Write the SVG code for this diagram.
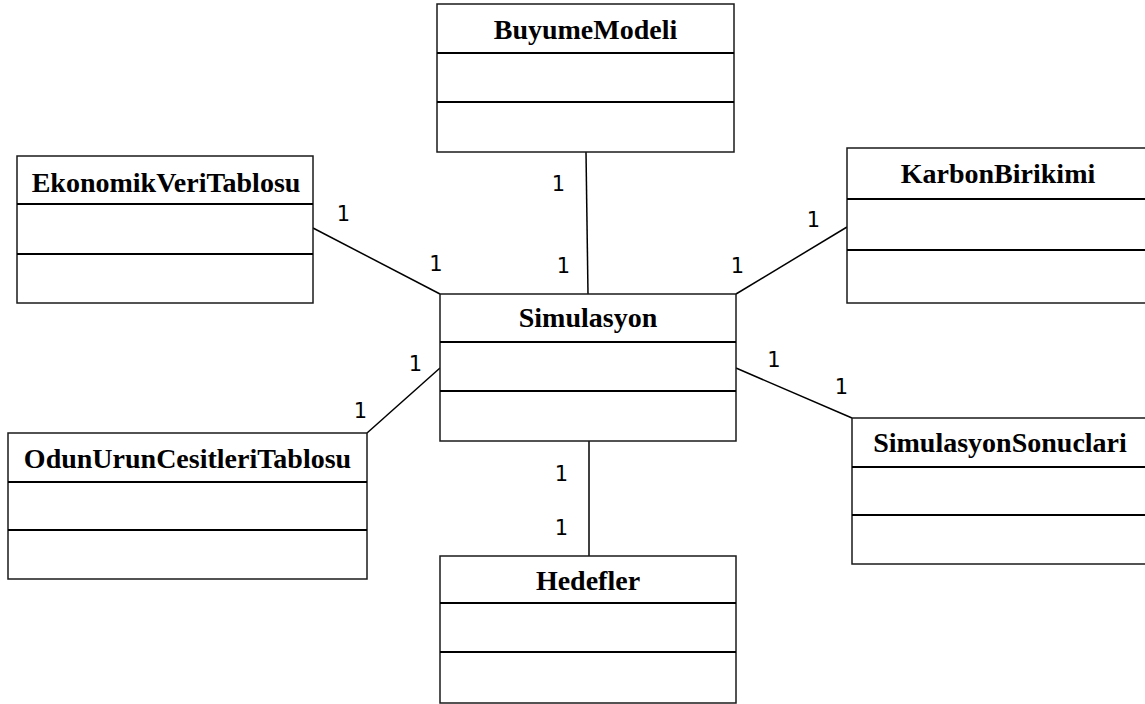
<svg xmlns="http://www.w3.org/2000/svg" width="1145" height="704" viewBox="0 0 1145 704">
  <style>
    .box { fill: #ffffff; stroke: #1a1a1a; stroke-width: 1.5; }
    .div { stroke: #000000; stroke-width: 2; }
    .title { font-family: "Liberation Serif", "Times New Roman", serif; font-weight: bold; font-size: 28px; text-anchor: middle; fill: #000000; }
    .conn { stroke: #000000; stroke-width: 1.5; fill: none; }
    .mult { font-family: "DejaVu Sans", sans-serif; font-size: 21px; text-anchor: middle; fill: #000000; }
  </style>
  <rect width="1145" height="704" fill="#ffffff"/>

  <!-- associations between the classes -->
  <g id="connectors">
    <line class="conn" x1="586" y1="152" x2="588" y2="294"/>
    <line class="conn" x1="313" y1="228" x2="440" y2="294"/>
    <line class="conn" x1="847" y1="227" x2="736" y2="294"/>
    <line class="conn" x1="367" y1="433" x2="440" y2="368"/>
    <line class="conn" x1="736" y1="368" x2="852" y2="418"/>
    <line class="conn" x1="589" y1="441" x2="589" y2="556"/>
    <text class="mult" x="558.5" y="191">1</text>
    <text class="mult" x="563.5" y="273">1</text>
    <text class="mult" x="343.5" y="221">1</text>
    <text class="mult" x="436" y="271">1</text>
    <text class="mult" x="813.5" y="227">1</text>
    <text class="mult" x="737.5" y="273">1</text>
    <text class="mult" x="415.5" y="371">1</text>
    <text class="mult" x="360.5" y="418">1</text>
    <text class="mult" x="774" y="367">1</text>
    <text class="mult" x="841.5" y="394">1</text>
    <text class="mult" x="561.5" y="481">1</text>
    <text class="mult" x="561.5" y="535">1</text>
  </g>

  <g id="BuyumeModeli">
    <rect class="box" x="437" y="4" width="297" height="148"/>
    <line class="div" x1="437" y1="53" x2="734" y2="53"/>
    <line class="div" x1="437" y1="102" x2="734" y2="102"/>
    <text class="title" x="585.5" y="39">BuyumeModeli</text>
  </g>

  <g id="EkonomikVeriTablosu">
    <rect class="box" x="17" y="156" width="296" height="147"/>
    <line class="div" x1="17" y1="204" x2="313" y2="204"/>
    <line class="div" x1="17" y1="254" x2="313" y2="254"/>
    <text class="title" x="166" y="192">EkonomikVeriTablosu</text>
  </g>

  <g id="KarbonBirikimi">
    <rect class="box" x="847" y="148" width="300" height="155"/>
    <line class="div" x1="847" y1="199" x2="1147" y2="199"/>
    <line class="div" x1="847" y1="250" x2="1147" y2="250"/>
    <text class="title" x="998" y="183">KarbonBirikimi</text>
  </g>

  <g id="Simulasyon">
    <rect class="box" x="440" y="294" width="296" height="147"/>
    <line class="div" x1="440" y1="342" x2="736" y2="342"/>
    <line class="div" x1="440" y1="391" x2="736" y2="391"/>
    <text class="title" x="588" y="327">Simulasyon</text>
  </g>

  <g id="OdunUrunCesitleriTablosu">
    <rect class="box" x="8" y="433" width="359" height="146"/>
    <line class="div" x1="8" y1="482" x2="367" y2="482"/>
    <line class="div" x1="8" y1="530" x2="367" y2="530"/>
    <text class="title" x="187.5" y="468">OdunUrunCesitleriTablosu</text>
  </g>

  <g id="SimulasyonSonuclari">
    <rect class="box" x="852" y="418" width="296" height="146"/>
    <line class="div" x1="852" y1="467" x2="1148" y2="467"/>
    <line class="div" x1="852" y1="515" x2="1148" y2="515"/>
    <text class="title" x="1000" y="452">SimulasyonSonuclari</text>
  </g>

  <g id="Hedefler">
    <rect class="box" x="440" y="556" width="296" height="147"/>
    <line class="div" x1="440" y1="603" x2="736" y2="603"/>
    <line class="div" x1="440" y1="652" x2="736" y2="652"/>
    <text class="title" x="588" y="590">Hedefler</text>
  </g>
</svg>
